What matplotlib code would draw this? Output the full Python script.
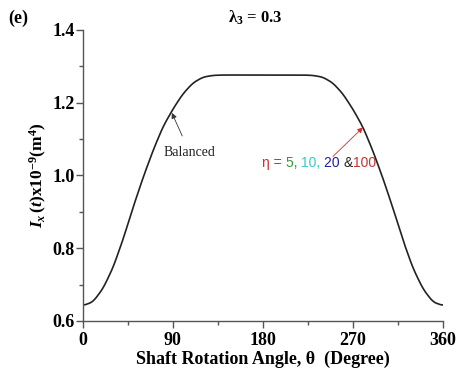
import numpy as np
import matplotlib
matplotlib.use('Agg')
import matplotlib.pyplot as plt
from matplotlib.offsetbox import TextArea, HPacker, AnnotationBbox

plt.rcParams['font.family'] = ['Liberation Serif', 'DejaVu Serif']
plt.rcParams['mathtext.fontset'] = 'custom'
plt.rcParams['mathtext.rm'] = 'Liberation Serif:bold'
plt.rcParams['mathtext.it'] = 'Liberation Serif:italic:bold'
plt.rcParams['mathtext.bf'] = 'Liberation Serif:bold'

# rotation angle (deg) and moment of inertia Ix(t) x1e-9 (m^4)
theta = [0, 10, 20, 30, 40, 50, 60, 70, 80, 90, 100, 110, 120, 130, 140,
         150, 160, 170, 180, 190, 200, 210, 220, 230, 240, 250, 260, 270,
         280, 290, 300, 310, 320, 330, 340, 350, 360]
ix = [0.642, 0.652, 0.688, 0.745, 0.822, 0.910, 0.992, 1.067, 1.133, 1.182,
      1.224, 1.254, 1.270, 1.275, 1.276, 1.276, 1.276, 1.276, 1.276, 1.276,
      1.276, 1.276, 1.276, 1.275, 1.270, 1.254, 1.224, 1.182, 1.133, 1.067,
      0.992, 0.910, 0.822, 0.745, 0.688, 0.652, 0.642]

eta_parts = ['\u03b7 = ', '5, ', '10, ', '20 ', '&', '100']
eta_colors = ['#d03030', '#339933', '#33cccc', '#2020a0', '#222222', '#d03030']

# smooth the read points for drawing
tt = np.linspace(0, 360, 721)
yy = np.interp(tt, theta, ix)
k = np.ones(15) / 15
yy = np.convolve(np.pad(yy, 7, mode='reflect'), k, mode='valid')

fig = plt.figure(figsize=(4.6, 3.74), dpi=100)
ax = fig.add_axes([0.180, 0.142, 0.783, 0.778])

ax.plot(tt, yy, color='#222222', lw=1.2)

ax.set_xlim(0, 360)
ax.set_ylim(0.6, 1.4)
ax.set_xticks([0, 90, 180, 270, 360])
ax.set_xticks([45, 135, 225, 315], minor=True)
ax.set_yticks([0.6, 0.8, 1.0, 1.2, 1.4])
ax.set_yticks([0.7, 0.9, 1.1, 1.3], minor=True)
ax.yaxis.set_major_formatter(matplotlib.ticker.FormatStrFormatter('%.1f'))
for s in ['top', 'right']:
    ax.spines[s].set_visible(False)
for s in ['left', 'bottom']:
    ax.spines[s].set_color('#555555')
    ax.spines[s].set_linewidth(1.0)
ax.tick_params(which='major', direction='out', length=5, width=1, color='#555555',
               labelsize=13)
ax.tick_params(axis='x', which='major', pad=3)
ax.tick_params(axis='y', which='major', pad=1)
ax.tick_params(which='minor', direction='out', length=3, width=1, color='#555555')
for lab in ax.get_xticklabels() + ax.get_yticklabels():
    lab.set_fontweight('bold')

ax.set_xlabel('Shaft Rotation Angle, \u03b8  (Degree)', fontsize=13,
              fontweight='bold', labelpad=1)
ax.set_ylabel(r'$\mathit{I_x}\,\mathit{(t)}$x10$^{-9}$(m$^4$)', fontsize=12.5,
              fontweight='bold', labelpad=2)

fig.text(0.018, 0.950, '(e)', fontsize=13, fontweight='bold', va='center')
fig.text(0.555, 0.952, '\u03bb$_3$ = 0.3', fontsize=12, fontweight='bold',
         ha='center', va='center')

ax.annotate('Balanced', xy=(89, 1.172), xytext=(107, 1.062), fontsize=10,
            fontweight='normal', ha='center', va='center', color='#222222',
            arrowprops=dict(arrowstyle='-|>', color='#333333', lw=0.6,
                            mutation_scale=8, shrinkA=6, shrinkB=0))

ax.annotate('', xy=(280, 1.132), xytext=(250, 1.052),
            arrowprops=dict(arrowstyle='-|>', color='#d03030', lw=0.6,
                            mutation_scale=8, shrinkA=0, shrinkB=0))
areas = [TextArea(t, textprops=dict(color=c, fontsize=10, family='Liberation Sans'))
         for t, c in zip(eta_parts, eta_colors)]
row = HPacker(children=areas, align='baseline', pad=0, sep=0)
ab = AnnotationBbox(row, (236, 1.033), xycoords='data', frameon=False,
                    box_alignment=(0.5, 0.5))
ax.add_artist(ab)

fig.savefig('out.png', dpi=100)
